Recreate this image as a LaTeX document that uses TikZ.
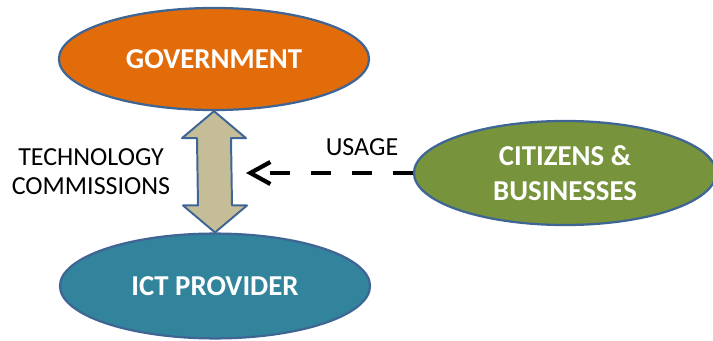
\documentclass[tikz,border=0pt]{standalone}
\usepackage{fontspec}
\setmainfont{Carlito}
\usetikzlibrary{shapes.geometric,calc,arrows.meta}
\definecolor{govorange}{HTML}{E36C0A}
\definecolor{ictteal}{HTML}{31849B}
\definecolor{citgreen}{HTML}{77933C}
\definecolor{twowaytan}{HTML}{C4BD97}
\definecolor{rimblue}{HTML}{3F6595}
\begin{document}
\begin{tikzpicture}[x=0.025cm,y=-0.025cm,line join=round,
	actor/.style={ellipse,draw=rimblue,line width=1.6pt,text=white,inner sep=0pt,
		minimum width=7.75cm,minimum height=2.55cm,align=center,
		font=\fontsize{20.5}{25}\selectfont\bfseries},
	lbl/.style={align=center,font=\fontsize{18.5}{20.6}\selectfont},
	twoway/.style={fill=twowaytan,draw=rimblue,line width=1.4pt},
	usage/.style={line width=3pt,dash pattern=on 0.5cm off 0.52cm,
		-{Straight Barb[length=0.5cm,width=0.55cm]}}]
	\useasboundingbox (0,0) rectangle (713,341);
	\node[actor,fill=govorange] (gov) at (214,59) {GOVERNMENT};
	\node[actor,fill=ictteal,minimum height=2.62cm] (ict) at (215,286) {ICT PROVIDER};
	\node[actor,fill=citgreen,minimum width=7.55cm,minimum height=2.6cm] (cit) at (565,173) {CITIZENS \&\\BUSINESSES};
	% double arrow between government and provider
	\path (gov.south) ++(0,27) coordinate (hu) (ict.north) ++(0,-27) coordinate (hd);
	\draw[twoway] (gov.south) -- ($(hu)+(32,0)$) -- ($(hu)+(17,0)$) -- ($(hd)+(17,0)$)
		-- ($(hd)+(32,0)$) -- (ict.north) -- ($(hd)+(-32,0)$) -- ($(hd)+(-17,0)$)
		-- ($(hu)+(-17,0)$) -- ($(hu)+(-32,0)$) -- cycle;
	\node[lbl] (techcom) at (91,172) {TECHNOLOGY\\COMMISSIONS};
	% usage
	\coordinate (usagetip) at (246,173);
	\draw[usage] (cit.west) -- (usagetip);
	\node[lbl] (usagelbl) at (362,147) {USAGE};
\end{tikzpicture}
\end{document}
